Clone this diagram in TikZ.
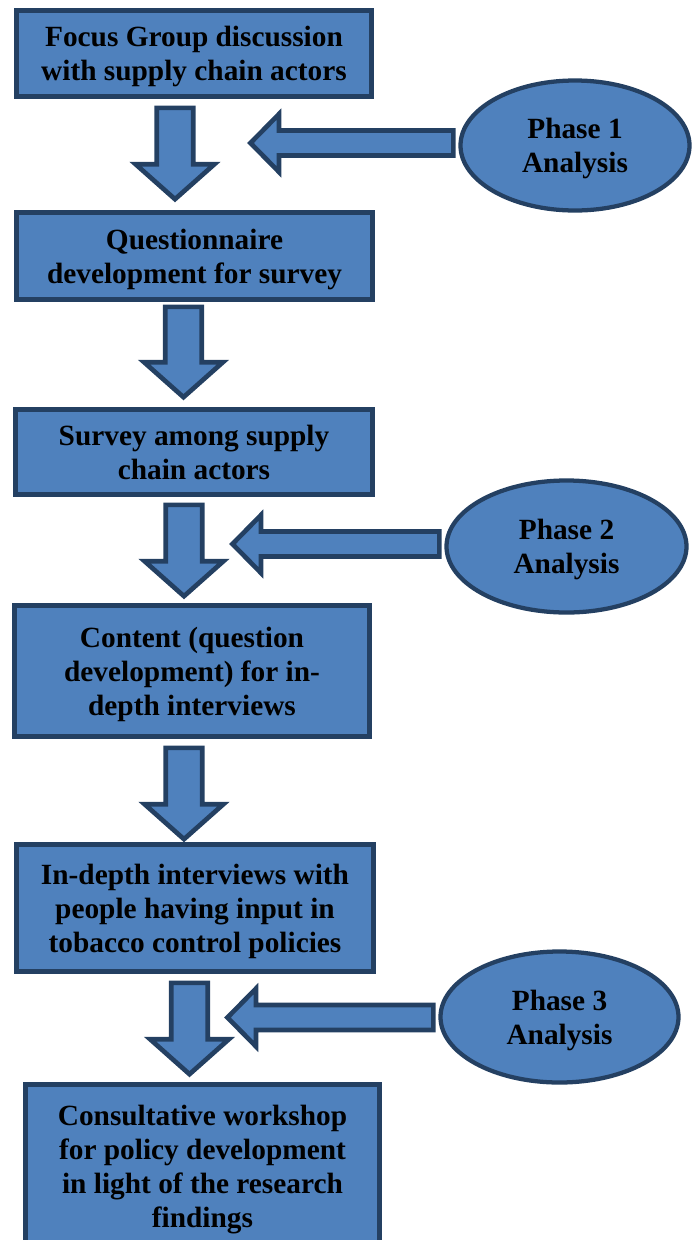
\documentclass[tikz,border=0pt]{standalone}
\usepackage{fontspec}
\setmainfont{Liberation Serif}
\usetikzlibrary{calc,shapes.geometric}
\definecolor{boxblue}{RGB}{79,129,189}
\definecolor{edgeblue}{RGB}{36,64,98}
\tikzset{
	stepbox/.style={draw=edgeblue,fill=boxblue,line width=3.5pt,align=center,inner sep=0pt,
		font=\fontsize{22}{25.5}\selectfont\bfseries,text depth=-7pt},
	phase/.style={ellipse,draw=edgeblue,fill=boxblue,line width=3.2pt,align=center,inner sep=0pt,
		font=\fontsize{22}{25.5}\selectfont\bfseries,text depth=-7pt},
	downarr/.style={draw=edgeblue,fill=boxblue,line width=3.5pt,
		to path={let \p1=(\tikztostart),\p2=(\tikztotarget) in
			(\x1-13.7pt,\y1)--(\x1-13.7pt,\y2+26.25pt)--(\x1-29.6pt,\y2+26.25pt)--(\x1,\y2)
			--(\x1+29.6pt,\y2+26.25pt)--(\x1+13.7pt,\y2+26.25pt)--(\x1+13.7pt,\y1)--cycle}},
	leftarr/.style={draw=edgeblue,fill=boxblue,line width=3.5pt,
		to path={let \p1=(\tikztostart),\p2=(\tikztotarget) in
			(\x1,\y1+9.4pt)--(\x2+21.4pt,\y1+9.4pt)--(\x2+21.4pt,\y1+21.75pt)--(\x2,\y1)
			--(\x2+21.4pt,\y1-21.75pt)--(\x2+21.4pt,\y1-9.4pt)--(\x1,\y1-9.4pt)--cycle}}
}
\begin{document}
\begin{tikzpicture}[x=0.75pt,y=-0.75pt]
	\useasboundingbox (0,0) rectangle (692,1240);
	\clip (0,0) rectangle (692,1240);
	
	%Các bước
	\node[stepbox,minimum width=266.25pt,minimum height=64.5pt] (b1) at (194,53.5)
		{Focus Group discussion\\with supply chain actors};
	\node[stepbox,minimum width=267pt,minimum height=65.25pt] (b2) at (194.5,256)
		{Questionnaire\\development for survey};
	\node[stepbox,minimum width=267.75pt,minimum height=63.75pt] (b3) at (194,452)
		{Survey among supply\\chain actors};
	\node[stepbox,minimum width=266.25pt,minimum height=98.25pt] (b4) at (192,671)
		{Content (question\\development) for in-\\depth interviews};
	\node[stepbox,minimum width=267.75pt,minimum height=95.25pt] (b5) at (195,908)
		{In-depth interviews with\\people having input in\\tobacco control policies};
	\node[stepbox,minimum width=265.5pt,minimum height=122.25pt] (b6) at (202.5,1166)
		{Consultative workshop\\for policy development\\in light of the research\\findings};
	
	%Mũi tên xuống
	\draw[downarr] ($(b1.south)+(-19,9)$) to ($(b2.north)+(0,-11)$);
	\draw[downarr] ($(b2.south)+(-11,5)$) to ($(b3.north)+(0,-10)$);
	\draw[downarr] ($(b3.south)+(-10,8)$) to ($(b4.north)+(0,-7)$);
	\draw[downarr] ($(b4.south)+(-8,9)$) to ($(b5.north)+(0,-3)$);
	\draw[downarr] ($(b5.south)+(-5.5,9)$) to ($(b6.north)+(0,-8)$);
	
	%Phân tích
	\node[phase,minimum width=171.75pt,minimum height=97.5pt] (e1) at (575,145.5) {Phase 1\\Analysis};
	\node[phase,minimum width=180pt,minimum height=99pt] (e2) at (566.5,546.5) {Phase 2\\Analysis};
	\node[phase,minimum width=178.5pt,minimum height=98.25pt] (e3) at (559.5,1017) {Phase 3\\Analysis};
	
	%Mũi tên trái
	\coordinate (t1) at (250.5,143);
	\coordinate (t2) at (232.5,544);
	\coordinate (t3) at (227.5,1017.5);
	\draw[leftarr] ($(e1.west)+(-5,-2.5)$) to (t1);
	\draw[leftarr] ($(e2.west)+(-5,-2.5)$) to (t2);
	\draw[leftarr] ($(e3.west)+(-5,0.5)$) to (t3);
\end{tikzpicture}
\end{document}
